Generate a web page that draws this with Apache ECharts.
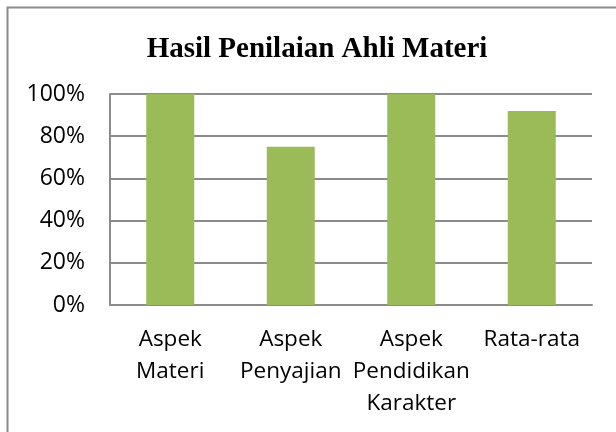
<!DOCTYPE html>
<html>
<head>
<meta charset="utf-8">
<script src="https://cdn.jsdelivr.net/npm/echarts@6/dist/echarts.min.js"></script>
<style>html,body{margin:0;padding:0;background:#fff}#c{width:616px;height:432px}</style>
</head>
<body>
<div id="c"></div>
<script>
const titleText = 'Hasil Penilaian Ahli Materi';
const categories = ['Aspek\nMateri', 'Aspek\nPenyajian', 'Aspek\nPendidikan\nKarakter', 'Rata-rata'];
const values = [1.00, 0.75, 1.00, 0.92];
const yTicks = [0, 0.2, 0.4, 0.6, 0.8, 1.0];

const chart = echarts.init(document.getElementById('c'), null, {renderer: 'canvas'});
chart.setOption({
  animation: false,
  backgroundColor: '#fff',
  title: {
    text: titleText,
    left: 312, top: 30, textAlign: 'center',
    textStyle: {fontFamily: 'Liberation Serif', fontWeight: 'bold', fontSize: 29, color: '#000'}
  },
  graphic: [{
    type: 'rect', shape: {x: 7.5, y: 7.5, width: 800, height: 800},
    style: {fill: 'none', stroke: '#8a8a8a', lineWidth: 2}, silent: true
  }],
  grid: {left: 110, right: 24, top: 94, bottom: 127, containLabel: false},
  xAxis: {
    type: 'category', data: categories,
    axisLine: {show: true, lineStyle: {color: '#8c8c8c', width: 2}},
    axisTick: {show: false},
    axisLabel: {margin: 19, fontFamily: 'Open Sans', fontSize: 22.5, lineHeight: 32, color: '#000', interval: 0}
  },
  yAxis: {
    type: 'value', min: 0, max: 1, interval: 0.2,
    axisLine: {show: true, lineStyle: {color: '#8c8c8c', width: 2}},
    axisTick: {show: false},
    splitLine: {show: true, lineStyle: {color: '#8c8c8c', width: 2}},
    axisLabel: {margin: 25, fontFamily: 'Open Sans', fontSize: 23, color: '#000',
      formatter: v => Math.round(v * 100) + '%'}
  },
  series: [{
    type: 'bar', data: values, barWidth: 48,
    itemStyle: {color: '#9BBB59'}
  }]
});
</script>
</body>
</html>
